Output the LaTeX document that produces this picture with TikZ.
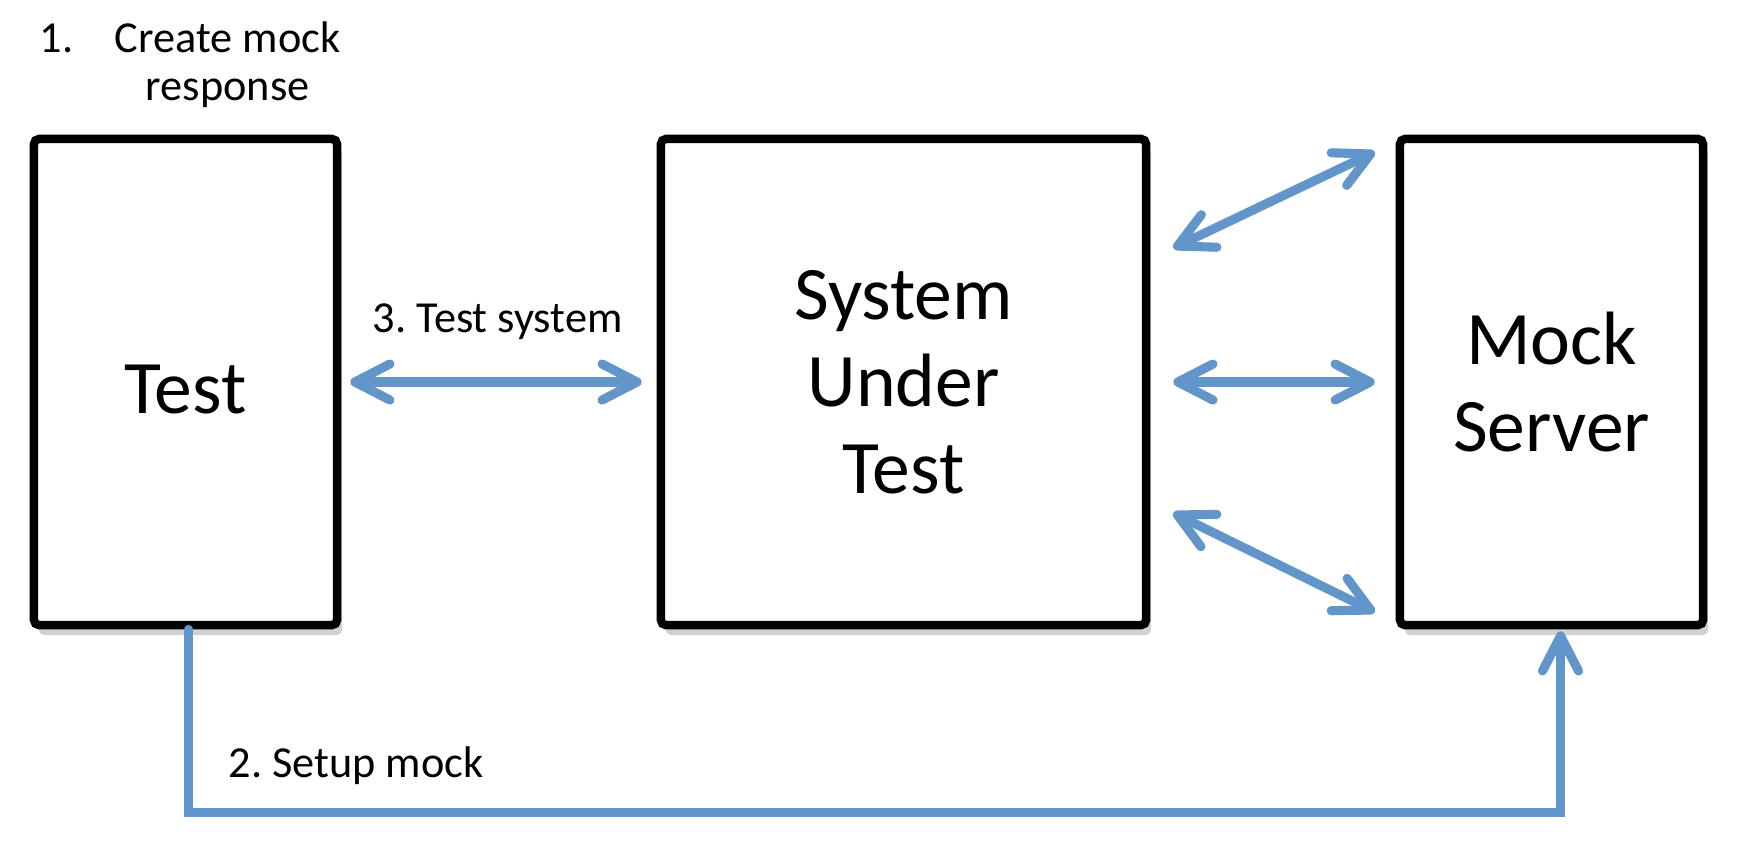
\documentclass[tikz,border=0pt]{standalone}
\usepackage{fontspec}
\setmainfont{Carlito}
\frenchspacing
\usetikzlibrary{positioning, calc, arrows.meta, shadows}

\definecolor{linkblue}{RGB}{98,150,202}

\tikzset{
  box/.style={draw, line width=2.4pt, rounded corners=1.5pt, fill=white, align=center,
    font=\fontsize{21.5}{24.8}\selectfont, execute at begin node=\rule{0pt}{#1},
    drop shadow={fill=black, opacity=0.18, shadow xshift=0.05cm, shadow yshift=-0.1cm}},
  box/.default=0.85em,
  link/.style={draw=linkblue, line width=2.6pt, line cap=round,
    >={Straight Barb[length=3.5mm, width=3.6mm, round]}},
  lbl/.style={inner sep=0pt, font=\fontsize{12.6}{13.7}\selectfont}
}

\begin{document}
\begin{tikzpicture}[x=0.01cm, y=-0.01cm]
  \useasboundingbox (0,0) rectangle (1740,844);

  % boxes
  \node[box, minimum width=3.03cm, minimum height=4.86cm] (test) at (185.5,382) {Test};
  \node[box=1.0em, minimum width=4.85cm, minimum height=4.86cm] (sut) at (903.5,382) {System\\Under\\Test};
  \node[box=1.0em, minimum width=3.03cm, minimum height=4.86cm] (mock) at (1551.5,382) {Mock\\Server};

  % step labels
  \node[lbl, anchor=base west] (create) at (39,52)
    {1.\hspace{0.94em}\begin{tabular}[t]{@{}c@{}}Create mock\\response\end{tabular}};
  \node[lbl, anchor=base west] (step3) at (372,332) {3. Test system};
  \node[lbl, anchor=base west] (step2) at (228,777) {2. Setup mock};

  % connectors
  \draw[link, <->, shorten <=0.09cm, shorten >=0.15cm] (test.east) -- (sut.west);
  \draw[link, <->] ($(sut.east)+(23,-134)$) -- ($(mock.west)+(-21,-230)$);
  \draw[link, <->, shorten <=0.23cm, shorten >=0.21cm] (sut.east) -- (mock.west);
  \draw[link, <->] ($(sut.east)+(23,131)$) -- ($(mock.west)+(-21,230)$);
  \draw[link, ->] ($(test.south)+(3,0)$) |- ($(mock.south)+(9,183)$) -- ($(mock.south)+(9,2)$);
\end{tikzpicture}
\end{document}
